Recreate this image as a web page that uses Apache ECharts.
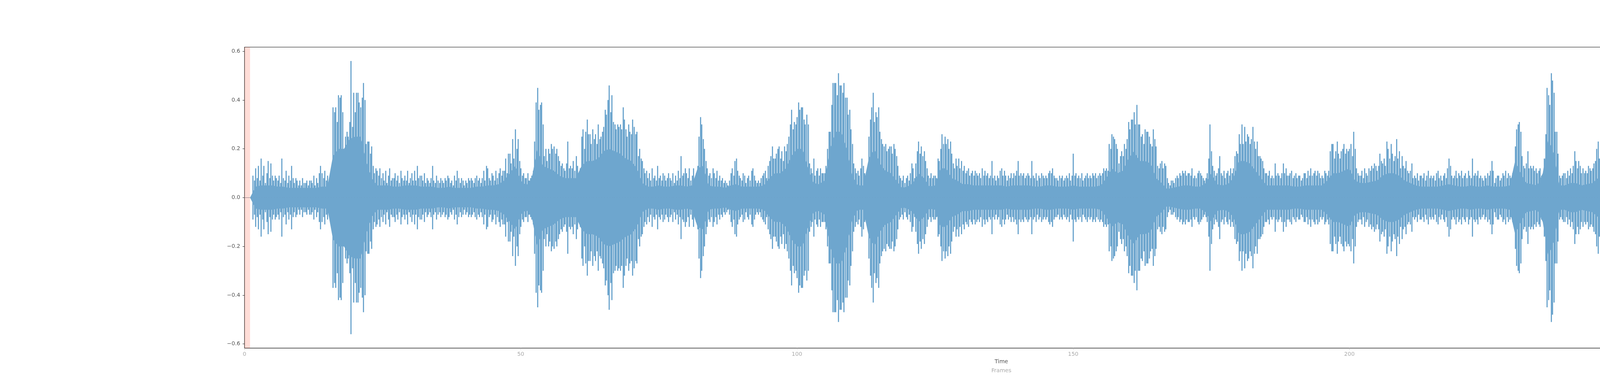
<!DOCTYPE html>
<html>
<head>
<meta charset="utf-8">
<script src="https://cdn.jsdelivr.net/npm/echarts@6/dist/echarts.min.js"></script>
<style>
  html, body { margin: 0; padding: 0; background: #fff; }
  #main { width: 5000px; height: 1000px; }
</style>
</head>
<body>
<div id="main"></div>
<script>
// waveform: spike heights, 4 samples per frame (symmetric about 0)
var sampleStep = 0.25;
var peaks = [
    // frames 0-9
    0, 0, 0, 0, 0, 0, 0.09, 0.07, 0.12, 0.08, 0.13, 0.07, 0.16, 0.09, 0.13, 0.06, 0.1, 0.15, 0.08, 0.14,
    0.09, 0.07, 0.09, 0.08, 0.07, 0.09, 0.06, 0.16, 0.08, 0.07, 0.11, 0.06, 0.09, 0.07, 0.13, 0.08, 0.06, 0.08, 0.07, 0.05,
    // 10-19
    0.07, 0.05, 0.08, 0.06, 0.06, 0.07, 0.05, 0.07, 0.07, 0.06, 0.09, 0.05, 0.08, 0.06, 0.1, 0.13, 0.1, 0.08, 0.11, 0.07,
    0.09, 0.07, 0.08, 0.1, 0.37, 0.35, 0.37, 0.31, 0.42, 0.41, 0.42, 0.35, 0.19, 0.25, 0.27, 0.25, 0.31, 0.56, 0.29, 0.43,
    // 20-29
    0.35, 0.43, 0.43, 0.39, 0.37, 0.41, 0.47, 0.4, 0.22, 0.23, 0.23, 0.18, 0.21, 0.13, 0.1, 0.12, 0.11, 0.09, 0.12, 0.08,
    0.1, 0.07, 0.11, 0.06, 0.09, 0.12, 0.07, 0.08, 0.08, 0.1, 0.07, 0.09, 0.06, 0.11, 0.08, 0.07, 0.09, 0.07, 0.11, 0.06,
    // 30-39
    0.08, 0.1, 0.07, 0.11, 0.07, 0.13, 0.08, 0.09, 0.09, 0.07, 0.1, 0.06, 0.08, 0.07, 0.06, 0.08, 0.13, 0.07, 0.06, 0.09,
    0.07, 0.06, 0.08, 0.07, 0.06, 0.08, 0.07, 0.09, 0.08, 0.06, 0.07, 0.05, 0.09, 0.07, 0.11, 0.08, 0.06, 0.08, 0.07, 0.05,
    // 40-49
    0.07, 0.06, 0.08, 0.07, 0.08, 0.07, 0.06, 0.08, 0.09, 0.07, 0.08, 0.06, 0.08, 0.11, 0.07, 0.13, 0.12, 0.08, 0.07, 0.1,
    0.09, 0.07, 0.11, 0.08, 0.1, 0.12, 0.09, 0.11, 0.11, 0.16, 0.1, 0.18, 0.18, 0.14, 0.24, 0.16, 0.28, 0.2, 0.24, 0.15,
    // 50-59
    0.12, 0.09, 0.1, 0.08, 0.08, 0.1, 0.07, 0.08, 0.09, 0.11, 0.23, 0.39, 0.45, 0.36, 0.38, 0.39, 0.3, 0.17, 0.2, 0.15,
    0.2, 0.18, 0.22, 0.2, 0.21, 0.18, 0.2, 0.17, 0.15, 0.13, 0.14, 0.12, 0.11, 0.14, 0.23, 0.12, 0.13, 0.12, 0.15, 0.11,
    // 60-69
    0.17, 0.13, 0.1, 0.12, 0.25, 0.28, 0.2, 0.27, 0.32, 0.26, 0.26, 0.22, 0.28, 0.24, 0.26, 0.22, 0.3, 0.24, 0.25, 0.27,
    0.29, 0.36, 0.34, 0.4, 0.46, 0.35, 0.42, 0.31, 0.3, 0.28, 0.3, 0.29, 0.3, 0.28, 0.37, 0.32, 0.28, 0.25, 0.3, 0.27,
    // 70-79
    0.26, 0.32, 0.29, 0.26, 0.27, 0.17, 0.2, 0.16, 0.15, 0.12, 0.1, 0.11, 0.08, 0.1, 0.07, 0.12, 0.08, 0.09, 0.07, 0.13,
    0.08, 0.09, 0.07, 0.1, 0.09, 0.07, 0.08, 0.1, 0.08, 0.07, 0.1, 0.06, 0.09, 0.07, 0.11, 0.08, 0.17, 0.09, 0.1, 0.12,
    // 80-89
    0.1, 0.08, 0.12, 0.07, 0.09, 0.12, 0.08, 0.1, 0.13, 0.25, 0.33, 0.3, 0.24, 0.2, 0.15, 0.12, 0.09, 0.1, 0.08, 0.12,
    0.1, 0.08, 0.11, 0.07, 0.09, 0.07, 0.08, 0.06, 0.07, 0.06, 0.05, 0.07, 0.1, 0.12, 0.09, 0.15, 0.16, 0.11, 0.09, 0.08,
    // 90-99
    0.07, 0.1, 0.09, 0.06, 0.08, 0.09, 0.07, 0.11, 0.12, 0.09, 0.07, 0.06, 0.07, 0.06, 0.08, 0.09, 0.1, 0.11, 0.08, 0.13,
    0.15, 0.17, 0.21, 0.16, 0.16, 0.18, 0.2, 0.21, 0.16, 0.19, 0.15, 0.21, 0.19, 0.22, 0.25, 0.3, 0.36, 0.28, 0.31, 0.3,
    // 100-109
    0.33, 0.39, 0.36, 0.37, 0.37, 0.32, 0.3, 0.34, 0.3, 0.14, 0.12, 0.1, 0.16, 0.09, 0.11, 0.12, 0.09, 0.12, 0.1, 0.1,
    0.1, 0.13, 0.2, 0.27, 0.27, 0.38, 0.47, 0.47, 0.47, 0.42, 0.51, 0.46, 0.46, 0.43, 0.47, 0.41, 0.41, 0.34, 0.36, 0.28,
    // 110-119
    0.22, 0.14, 0.12, 0.1, 0.11, 0.09, 0.12, 0.16, 0.13, 0.1, 0.08, 0.09, 0.25, 0.32, 0.37, 0.43, 0.31, 0.35, 0.33, 0.37,
    0.27, 0.24, 0.22, 0.21, 0.22, 0.19, 0.2, 0.21, 0.21, 0.18, 0.22, 0.2, 0.17, 0.13, 0.09, 0.08, 0.07, 0.09, 0.06, 0.08,
    // 120-129
    0.09, 0.07, 0.1, 0.14, 0.12, 0.08, 0.14, 0.19, 0.23, 0.18, 0.21, 0.17, 0.19, 0.15, 0.12, 0.09, 0.08, 0.1, 0.08, 0.09,
    0.09, 0.08, 0.16, 0.15, 0.2, 0.26, 0.22, 0.25, 0.22, 0.24, 0.2, 0.23, 0.18, 0.14, 0.12, 0.16, 0.13, 0.16, 0.12, 0.15,
    // 130-139
    0.11, 0.13, 0.1, 0.11, 0.12, 0.09, 0.1, 0.11, 0.09, 0.11, 0.1, 0.09, 0.1, 0.08, 0.12, 0.09, 0.11, 0.09, 0.1, 0.08,
    0.09, 0.15, 0.08, 0.09, 0.07, 0.09, 0.08, 0.11, 0.12, 0.09, 0.11, 0.09, 0.07, 0.09, 0.08, 0.1, 0.08, 0.1, 0.09, 0.11,
    // 140-149
    0.15, 0.09, 0.1, 0.09, 0.1, 0.08, 0.09, 0.1, 0.09, 0.08, 0.15, 0.09, 0.08, 0.1, 0.07, 0.09, 0.08, 0.1, 0.09, 0.08,
    0.09, 0.08, 0.1, 0.11, 0.1, 0.12, 0.09, 0.08, 0.08, 0.07, 0.09, 0.08, 0.09, 0.07, 0.08, 0.09, 0.08, 0.1, 0.07, 0.09,
    // 150-159
    0.18, 0.09, 0.1, 0.08, 0.09, 0.08, 0.1, 0.07, 0.08, 0.09, 0.1, 0.08, 0.09, 0.08, 0.1, 0.09, 0.1, 0.08, 0.09, 0.1,
    0.09, 0.1, 0.12, 0.11, 0.12, 0.11, 0.22, 0.2, 0.26, 0.25, 0.24, 0.22, 0.2, 0.14, 0.17, 0.19, 0.17, 0.22, 0.2, 0.24,
    // 160-169
    0.31, 0.28, 0.32, 0.32, 0.35, 0.3, 0.38, 0.3, 0.3, 0.25, 0.26, 0.22, 0.28, 0.27, 0.27, 0.25, 0.22, 0.21, 0.28, 0.24,
    0.21, 0.13, 0.12, 0.14, 0.15, 0.12, 0.14, 0.13, 0.08, 0.06, 0.05, 0.07, 0.07, 0.06, 0.08, 0.09, 0.08, 0.1, 0.09, 0.11,
    // 170-179
    0.1, 0.11, 0.09, 0.1, 0.1, 0.09, 0.12, 0.08, 0.09, 0.08, 0.1, 0.11, 0.1, 0.09, 0.08, 0.07, 0.08, 0.1, 0.16, 0.3,
    0.19, 0.13, 0.11, 0.09, 0.1, 0.12, 0.17, 0.1, 0.09, 0.11, 0.08, 0.1, 0.11, 0.09, 0.12, 0.1, 0.12, 0.17, 0.19, 0.18,
    // 180-189
    0.26, 0.22, 0.3, 0.22, 0.29, 0.23, 0.26, 0.25, 0.22, 0.24, 0.29, 0.23, 0.2, 0.23, 0.17, 0.17, 0.16, 0.15, 0.12, 0.1,
    0.1, 0.09, 0.11, 0.08, 0.09, 0.08, 0.14, 0.09, 0.1, 0.09, 0.08, 0.1, 0.14, 0.1, 0.12, 0.09, 0.09, 0.1, 0.11, 0.08,
    // 190-199
    0.09, 0.1, 0.08, 0.09, 0.09, 0.07, 0.08, 0.1, 0.1, 0.08, 0.11, 0.09, 0.12, 0.09, 0.1, 0.11, 0.09, 0.11, 0.1, 0.08,
    0.09, 0.08, 0.11, 0.1, 0.09, 0.11, 0.19, 0.22, 0.22, 0.16, 0.19, 0.23, 0.18, 0.16, 0.19, 0.2, 0.22, 0.18, 0.2, 0.19,
    // 200-209
    0.2, 0.22, 0.17, 0.27, 0.2, 0.12, 0.1, 0.09, 0.09, 0.11, 0.08, 0.12, 0.1, 0.09, 0.12, 0.11, 0.13, 0.12, 0.14, 0.13,
    0.11, 0.13, 0.18, 0.15, 0.14, 0.16, 0.13, 0.23, 0.2, 0.16, 0.22, 0.18, 0.15, 0.17, 0.24, 0.16, 0.19, 0.12, 0.17, 0.13,
    // 210-219
    0.12, 0.15, 0.11, 0.1, 0.11, 0.14, 0.08, 0.09, 0.08, 0.1, 0.07, 0.09, 0.09, 0.08, 0.1, 0.07, 0.09, 0.11, 0.08, 0.09,
    0.08, 0.09, 0.07, 0.1, 0.11, 0.08, 0.09, 0.07, 0.09, 0.1, 0.08, 0.12, 0.16, 0.13, 0.09, 0.08, 0.09, 0.11, 0.08, 0.1,
    // 220-229
    0.09, 0.11, 0.08, 0.09, 0.1, 0.08, 0.11, 0.09, 0.08, 0.16, 0.09, 0.1, 0.09, 0.11, 0.08, 0.09, 0.08, 0.07, 0.09, 0.08,
    0.1, 0.09, 0.11, 0.15, 0.11, 0.06, 0.08, 0.09, 0.09, 0.07, 0.08, 0.1, 0.09, 0.11, 0.08, 0.1, 0.09, 0.08, 0.1, 0.11,
    // 230-239
    0.21, 0.28, 0.3, 0.31, 0.27, 0.17, 0.13, 0.12, 0.14, 0.19, 0.12, 0.13, 0.12, 0.13, 0.11, 0.12, 0.1, 0.11, 0.12, 0.09,
    0.08, 0.16, 0.26, 0.45, 0.42, 0.38, 0.51, 0.48, 0.43, 0.27, 0.27, 0.18, 0.09, 0.08, 0.09, 0.1, 0.1, 0.08, 0.11, 0.09,
    // 240-249
    0.12, 0.1, 0.13, 0.19, 0.15, 0.12, 0.15, 0.13, 0.1, 0.12, 0.1, 0.11, 0.1, 0.13, 0.12, 0.11, 0.12, 0.14, 0.15, 0.2,
    0.23, 0.16, 0.17, 0.13, 0.14, 0.11, 0.1, 0.12, 0.1, 0.11, 0.09, 0.1, 0.13, 0.16, 0.2, 0.21, 0.18, 0.15, 0.17, 0.12,
    // 250-259
    0.09, 0.1, 0.08, 0.09, 0.08, 0.09, 0.1, 0.08, 0.09, 0.11, 0.08, 0.09, 0.1, 0.08, 0.11, 0.09, 0.09, 0.11, 0.08, 0.1,
    0.11, 0.16, 0.12, 0.09, 0.1, 0.09, 0.11, 0.08, 0.09, 0.08, 0.1, 0.09, 0.08, 0.09, 0.07, 0.1, 0.09, 0.11, 0.08, 0.09,
    // 260-269
    0.1, 0.08, 0.11, 0.09, 0.08, 0.1, 0.09, 0.11, 0.1, 0.09, 0.11, 0.09, 0.09, 0.11, 0.14, 0.1, 0.11, 0.09, 0.1, 0.08,
    0.1, 0.15, 0.09, 0.11, 0.09, 0.1, 0.08, 0.09, 0.1, 0.11, 0.09, 0.1, 0.08, 0.1, 0.11, 0.09, 0.09, 0.08, 0.1, 0.11,
    // 270-274
    0.1, 0.09, 0.11, 0.09, 0.11, 0.14, 0.1, 0.09, 0.09, 0.11, 0.1, 0.12, 0.11, 0.09, 0.14, 0.1, 0.12
];

// dense solid core of the waveform, one value per frame
var coreLevel = [
    0, 0,
    0.045, 0.05, 0.05, 0.05, 0.045, 0.045, 0.04, 0.04, 0.04, 0.04, 0.04, 0.04, 0.045, 0.045,
    0.17, 0.2, 0.2, 0.24, 0.25, 0.25, 0.15, 0.08,
    0.05, 0.05, 0.05, 0.045, 0.045, 0.05, 0.05, 0.05, 0.045, 0.045, 0.045, 0.04, 0.04, 0.045, 0.04, 0.04, 0.04, 0.04, 0.045, 0.045, 0.05, 0.05, 0.055,
    0.07, 0.1, 0.13, 0.07, 0.05, 0.08, 0.2, 0.13, 0.12, 0.11, 0.09, 0.08, 0.08, 0.08, 0.13, 0.15, 0.15, 0.16, 0.19, 0.2, 0.19, 0.18, 0.16, 0.15, 0.12, 0.06,
    0.045, 0.045, 0.05, 0.045, 0.045, 0.05, 0.05, 0.045, 0.05,
    0.12, 0.13, 0.05,
    0.045, 0.045, 0.04, 0.05, 0.055, 0.045, 0.045, 0.045, 0.045, 0.05,
    0.08, 0.1, 0.1, 0.12, 0.17, 0.2, 0.2, 0.12, 0.06, 0.055, 0.07, 0.2, 0.27, 0.27, 0.2, 0.09, 0.05, 0.05,
    0.16, 0.2, 0.14, 0.11, 0.1, 0.07,
    0.04, 0.045, 0.06,
    0.1, 0.08, 0.045, 0.05,
    0.12, 0.12, 0.08, 0.07,
    0.055, 0.055, 0.05, 0.05, 0.05, 0.05, 0.05, 0.05, 0.045, 0.05, 0.05, 0.05, 0.05, 0.045, 0.045, 0.05, 0.05, 0.045, 0.045, 0.045, 0.05, 0.045, 0.045, 0.045, 0.045, 0.05,
    0.08, 0.12, 0.1, 0.11, 0.16, 0.19, 0.15, 0.15, 0.14, 0.08,
    0.06, 0.035, 0.04, 0.045, 0.05, 0.05, 0.045, 0.045,
    0.06, 0.1, 0.055, 0.05, 0.055,
    0.08, 0.15, 0.15, 0.14, 0.11, 0.08,
    0.05, 0.05, 0.05, 0.05, 0.05, 0.045, 0.045, 0.05, 0.05, 0.05, 0.05,
    0.07, 0.1, 0.1, 0.11, 0.12, 0.07,
    0.06, 0.06, 0.065, 0.07, 0.09, 0.1, 0.1, 0.09, 0.07, 0.06,
    0.05, 0.045, 0.045, 0.045, 0.045, 0.05, 0.055, 0.05, 0.045, 0.045, 0.05, 0.045, 0.045, 0.05, 0.045, 0.045, 0.045, 0.05,
    0.15, 0.1, 0.06, 0.055, 0.05, 0.1, 0.24, 0.18,
    0.05, 0.05, 0.06, 0.06, 0.05, 0.055, 0.06, 0.08, 0.05, 0.05, 0.08, 0.07,
    0.05, 0.045, 0.045, 0.045, 0.045, 0.05, 0.045, 0.045, 0.045, 0.045, 0.045, 0.045, 0.05, 0.05, 0.045, 0.05, 0.045, 0.045, 0.05, 0.05, 0.05, 0.05, 0.05, 0.05, 0.05
];

var xTicks = [0, 50, 100, 150, 200, 250];
var yTicks = [-0.6, -0.4, -0.2, 0, 0.2, 0.4, 0.6];
var highlight = [0, 1];   // shaded frame range

var waveColor = '#6ea6ce';
var fontFamily = 'DejaVu Sans';

var myChart = echarts.init(document.getElementById('main'));

var peakData = peaks.map(function (a, i) { return [i * sampleStep, a]; });
var coreTop = coreLevel.map(function (c, i) { return [i, c]; });
var coreBottom = coreLevel.map(function (c, i) { return [i, -c]; });

option = {
    animation: false,
    backgroundColor: '#fff',
    grid: {
        left: 626,
        right: 499,
        top: 120.5,
        bottom: 109.7,
        show: true,
        borderColor: '#000',
        borderWidth: 1.2,
        backgroundColor: 'transparent'
    },
    xAxis: [
        {
            type: 'value',
            min: 0,
            max: 274,
            position: 'bottom',
            axisLine: {show: false, onZero: false},
            axisTick: {show: true, length: 5, customValues: xTicks, lineStyle: {color: '#bbb'}},
            axisLabel: {customValues: xTicks, color: '#aaa', fontSize: 14, fontFamily: fontFamily, margin: 9},
            splitLine: {show: false},
            name: '{t|Time}\n{f|Frames}',
            nameLocation: 'middle',
            nameGap: 2,
            nameTextStyle: {
                fontFamily: fontFamily,
                rich: {
                    t: {fontSize: 14, color: '#555', fontFamily: fontFamily, lineHeight: 23},
                    f: {fontSize: 14, color: '#aaa', fontFamily: fontFamily, lineHeight: 23}
                }
            }
        },
        {
            // thin line at zero, visible where there is no signal
            type: 'value',
            min: 0,
            max: 274,
            position: 'top',
            axisLine: {show: true, onZero: true, lineStyle: {color: '#6b7d92', width: 1.2}},
            axisTick: {show: false},
            axisLabel: {show: false},
            splitLine: {show: false}
        }
    ],
    yAxis: {
        type: 'value',
        min: -0.617,
        max: 0.617,
        axisLine: {show: false},
        axisTick: {show: true, length: 5, customValues: yTicks, lineStyle: {color: '#222'}},
        axisLabel: {
            customValues: yTicks,
            color: '#555',
            fontSize: 14,
            fontFamily: fontFamily,
            margin: 11,
            formatter: function (v) {
                return (v < 0 ? '\u2212' : '') + Math.abs(v).toFixed(1);
            }
        },
        splitLine: {show: false}
    },
    series: [
        {
            name: 'core+',
            type: 'line',
            data: coreTop,
            symbol: 'none',
            silent: true,
            lineStyle: {width: 0},
            areaStyle: {color: waveColor, opacity: 1},
            markArea: {
                silent: true,
                itemStyle: {color: 'rgba(255,99,71,0.22)'},
                data: [[{xAxis: highlight[0]}, {xAxis: highlight[1]}]]
            }
        },
        {
            name: 'core-',
            type: 'line',
            data: coreBottom,
            symbol: 'none',
            silent: true,
            lineStyle: {width: 0},
            areaStyle: {color: waveColor, opacity: 1}
        },
        {
            name: 'wave',
            type: 'custom',
            data: peakData,
            silent: true,
            clip: true,
            renderItem: function (params, api) {
                var t = api.value(0);
                var a = api.value(1);
                var p1 = api.coord([t, a]);
                var p2 = api.coord([t, -a]);
                // snap to the pixel grid so the spikes stay crisp
                var x = Math.round(p1[0]) + 0.5;
                return {
                    type: 'line',
                    shape: {x1: x, y1: p1[1], x2: x, y2: p2[1]},
                    style: {stroke: waveColor, lineWidth: 3}
                };
            }
        }
    ]
};

myChart.setOption(option);
</script>
</body>
</html>
